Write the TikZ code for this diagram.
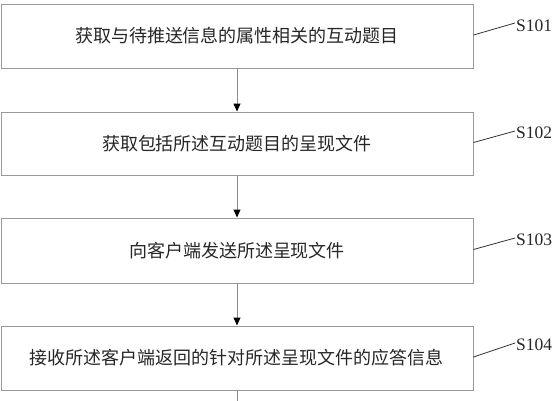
\documentclass[tikz,border=0pt]{standalone}
\usepackage{fontspec}
\setmainfont{Liberation Serif}
\newfontfamily\cjk{Noto Sans CJK SC}
\usetikzlibrary{arrows.meta,calc}
\begin{document}
\begin{tikzpicture}[x=1pt,y=-1pt,
  stepbox/.style={draw=black!40,line width=1pt,rectangle,minimum width=472pt,inner sep=0pt,font=\cjk\fontsize{18}{21}\selectfont,text=black!85},
  flow/.style={draw=black!45,line width=1pt,-{Triangle[width=7pt,length=8pt,color=black]}},
  lead/.style={draw=black!80,line width=0.8pt},
  lab/.style={anchor=west,inner sep=0pt,font=\fontsize{17.5}{20}\selectfont,text=black!85}]
\useasboundingbox (0,0) rectangle (558,400);
\node[stepbox,minimum height=64pt] (b1) at (237,36) {获取与待推送信息的属性相关的互动题目};
\node[stepbox,minimum height=63pt] (b2) at (237,143.5) {获取包括所述互动题目的呈现文件};
\node[stepbox,minimum height=65pt] (b3) at (237,250.5) {向客户端发送所述呈现文件};
\node[stepbox,minimum height=64pt] (b4) at (237,358) {接收所述客户端返回的针对所述呈现文件的应答信息};
\coordinate (end) at (237,401);
\draw[flow] (b1) -- (b2);
\draw[flow] (b2) -- (b3);
\draw[flow] (b3) -- (b4);
\draw[draw=black!45,line width=1pt] (b4.south) -- (end);
\node[lab] (l1) at (516,26) {S101};
\node[lab] (l2) at (516,133) {S102};
\node[lab] (l3) at (516,240) {S103};
\node[lab] (l4) at (516,345) {S104};
\draw[lead] ($(b1.east)+(0,-1)$) -- ($(l1.west)+(-1,-3)$);
\draw[lead] ($(b2.east)+(0,-1)$) -- ($(l2.west)+(-1,-2)$);
\draw[lead] ($(b3.east)+(0,-1)$) -- ($(l3.west)+(-1,-2)$);
\draw[lead] ($(b4.east)+(0,-1)$) -- ($(l4.west)+(-1,-2)$);
\end{tikzpicture}
\end{document}
